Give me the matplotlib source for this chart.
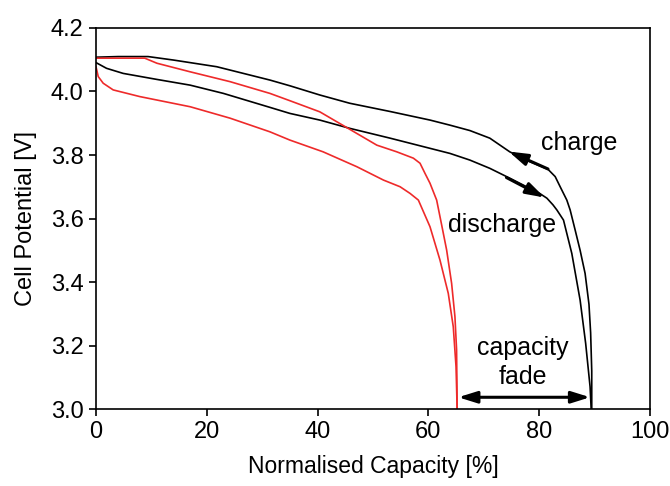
import numpy as np
import matplotlib.pyplot as plt

plt.rcParams['font.family'] = ['Liberation Sans', 'DejaVu Sans']

# black cell: charge (upper curve) and discharge (lower curve)
blk_chg_x = [0, 4, 9.4, 14, 21.8, 26.6, 31.4, 35, 40.4, 45.8, 53.1, 60.3, 63.9, 67.5, 71.1, 74.7,
             78.3, 81.6, 82.9, 83.8, 85.0, 85.6, 86.5, 87.4, 88.3, 89.0, 89.3, 89.5, 89.5]
blk_chg_v = [4.108, 4.110, 4.110, 4.099, 4.078, 4.057, 4.036, 4.018, 3.989, 3.963, 3.937, 3.910, 3.894, 3.877, 3.853, 3.810,
             3.779, 3.755, 3.732, 3.700, 3.658, 3.627, 3.564, 3.50, 3.427, 3.33, 3.24, 3.12, 3.0]
blk_dis_x = [0, 1.9, 4.9, 11, 17, 23, 31.4, 35, 40.4, 45.8, 53.1, 60.3, 63.9, 67.5, 71.1, 74.7,
             80.1, 81.4, 82.5, 83.2, 84.4, 85.9, 87.4, 88.4, 89.2, 89.4]
blk_dis_v = [4.091, 4.073, 4.057, 4.038, 4.020, 3.994, 3.950, 3.931, 3.910, 3.884, 3.853, 3.821, 3.805, 3.784, 3.758, 3.727,
             3.679, 3.664, 3.643, 3.627, 3.595, 3.490, 3.343, 3.207, 3.07, 3.0]

# red cell (after capacity fade)
red_chg_x = [0, 4, 8.8, 11, 17, 24.2, 31.4, 35, 40.4, 45.8, 50.7, 54.3, 57.3, 58.5, 59.4, 60.3,
             61.5, 62.4, 63.3, 64.2, 64.8, 65.1, 65.2]
red_chg_v = [4.105, 4.105, 4.105, 4.089, 4.062, 4.031, 3.994, 3.971, 3.936, 3.881, 3.831, 3.810, 3.790, 3.774, 3.742, 3.711,
             3.658, 3.58, 3.501, 3.396, 3.291, 3.186, 3.0]
red_dis_x = [0, 0.4, 1.3, 3.1, 7.9, 17, 24.2, 31.4, 35, 41, 47.1, 51.9, 54.9, 56.7, 58.2,
             60.3, 62.1, 63.6, 64.5, 65.0, 65.2]
red_dis_v = [4.078, 4.047, 4.026, 4.005, 3.984, 3.952, 3.916, 3.873, 3.847, 3.810, 3.763, 3.721, 3.700, 3.679, 3.658,
             3.574, 3.469, 3.364, 3.259, 3.133, 3.0]

x_ticks = [0, 20, 40, 60, 80, 100]
y_ticks = [3.0, 3.2, 3.4, 3.6, 3.8, 4.0, 4.2]

fig = plt.figure(figsize=(6.7, 4.86), dpi=100)
ax = fig.add_axes([0.1433, 0.1584, 0.8267, 0.784])

red = '#ee2a2a'
ax.plot(blk_chg_x, blk_chg_v, color='black', lw=1.2)
ax.plot(blk_dis_x, blk_dis_v, color='black', lw=1.2)
ax.plot(red_chg_x, red_chg_v, color=red, lw=1.2)
ax.plot(red_dis_x, red_dis_v, color=red, lw=1.2)

# direction arrows along the curves
arr = dict(arrowstyle='-|>,head_length=0.8,head_width=0.25', color='black', lw=2.2,
           mutation_scale=14, shrinkA=0, shrinkB=0)
ax.annotate('', xy=(74.5, 3.811), xytext=(81.6, 3.756), arrowprops=arr)
ax.annotate('', xy=(81.0, 3.666), xytext=(74.1, 3.729), arrowprops=arr)
# capacity fade
fade = dict(arrowstyle='<|-|>,head_length=0.8,head_width=0.25', color='black', lw=2.2,
            mutation_scale=14, shrinkA=0, shrinkB=0)
ax.annotate('', xy=(65.4, 3.037), xytext=(89.2, 3.037), arrowprops=fade)

ax.text(87.2, 3.838, 'charge', fontsize=18, ha='center', va='center')
ax.text(73.3, 3.579, 'discharge', fontsize=18, ha='center', va='center')
ax.text(77.1, 3.191, 'capacity', fontsize=18, ha='center', va='center')
ax.text(77.1, 3.102, 'fade', fontsize=18, ha='center', va='center')

ax.set_xlim(0, 100)
ax.set_ylim(3.0, 4.2)
ax.set_xticks(x_ticks)
ax.set_yticks(y_ticks)
ax.set_yticklabels(['%.1f' % v for v in y_ticks])
ax.tick_params(direction='out', length=5, width=1.2, labelsize=17, top=False, right=False)
ax.tick_params(axis='y', pad=4)
for s in ax.spines.values():
    s.set_linewidth(1.2)
ax.set_xlabel('Normalised Capacity [%]', fontsize=16.5, labelpad=9)
ax.set_ylabel('Cell Potential [V]', fontsize=17, labelpad=10)

fig.savefig('out.png', dpi=100)
